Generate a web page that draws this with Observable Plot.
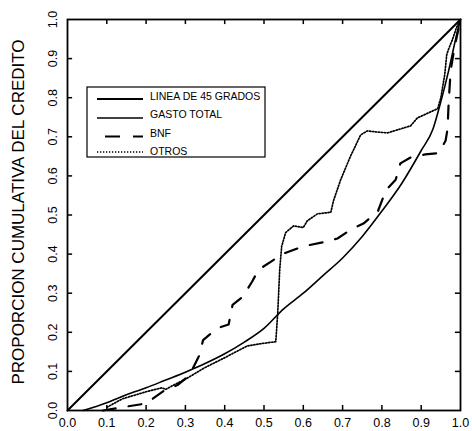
<!DOCTYPE html>
<html>
<head>
<meta charset="utf-8">
<script src="https://cdn.jsdelivr.net/npm/d3@7"></script>
<script src="https://cdn.jsdelivr.net/npm/@observablehq/plot@0.6"></script>
<style>
  html, body { margin: 0; padding: 0; background: #fff; }
  #chart svg { display: block; }
</style>
</head>
<body>
<div id="chart"></div>
<script>
// ---- data ----
const yTitle = "PROPORCION CUMULATIVA DEL CREDITO";
const xTicks = [0, 0.1, 0.2, 0.3, 0.4, 0.5, 0.6, 0.7, 0.8, 0.9, 1.0];
const xTickLabels = ["0.0","0.1","0.2","0.3","0.4","0.5","0.6","0.7","0.8","0.9","1.0"];
const yTicks = [0, 0.1, 0.2, 0.3, 0.4, 0.5, 0.6, 0.7, 0.8, 0.9, 1.0];
const yTickLabels = ["0.0","0.1","0.2","0.3","0.4","0.5","0.6","0.7","0.8","0.9","1.0"];
const innerTicks = [0.1, 0.2, 0.3, 0.4, 0.5, 0.6, 0.7, 0.8, 0.9];

const seriesNames = ["LINEA DE 45 GRADOS", "GASTO TOTAL", "BNF", "OTROS"];

const lineaX = [0, 1];
const lineaY = [0, 1];

const gastoX = [0.04, 0.1, 0.15, 0.2, 0.25, 0.3, 0.35, 0.4, 0.45, 0.5, 0.55, 0.6, 0.65, 0.7, 0.75, 0.8, 0.85, 0.9, 0.93, 0.95, 0.97, 0.99, 1.0];
const gastoY = [0, 0.02, 0.04, 0.058, 0.078, 0.098, 0.12, 0.145, 0.175, 0.21, 0.26, 0.3, 0.345, 0.39, 0.445, 0.51, 0.58, 0.665, 0.72, 0.79, 0.87, 0.96, 1.0];

const bnfX = [0.09, 0.15, 0.2, 0.245, 0.28, 0.31, 0.335, 0.345, 0.38, 0.41, 0.42, 0.445, 0.47, 0.486, 0.517, 0.547, 0.6, 0.65, 0.687, 0.725, 0.753, 0.79, 0.81, 0.835, 0.847, 0.873, 0.91, 0.944, 0.962, 0.967, 0.97, 0.975, 0.985, 1.0];
const bnfY = [0.0, 0.01, 0.018, 0.05, 0.065, 0.09, 0.14, 0.18, 0.21, 0.22, 0.27, 0.29, 0.33, 0.36, 0.38, 0.40, 0.42, 0.43, 0.44, 0.465, 0.478, 0.51, 0.563, 0.59, 0.632, 0.647, 0.655, 0.658, 0.69, 0.72, 0.79, 0.87, 0.93, 1.0];

const otrosX = [0.1, 0.14, 0.2, 0.24, 0.25, 0.27, 0.3, 0.32, 0.35, 0.4, 0.457, 0.5, 0.53, 0.535, 0.54, 0.545, 0.555, 0.575, 0.6, 0.61, 0.636, 0.67, 0.677, 0.695, 0.72, 0.746, 0.763, 0.79, 0.814, 0.847, 0.873, 0.89, 0.931, 0.942, 0.95, 0.96, 0.965, 0.97, 0.98, 0.99, 1.0];
const otrosY = [0.008, 0.03, 0.048, 0.058, 0.054, 0.065, 0.08, 0.092, 0.11, 0.135, 0.165, 0.172, 0.176, 0.25, 0.36, 0.42, 0.455, 0.472, 0.468, 0.485, 0.503, 0.507, 0.537, 0.59, 0.65, 0.705, 0.715, 0.712, 0.71, 0.72, 0.728, 0.748, 0.767, 0.772, 0.80, 0.86, 0.91, 0.925, 0.95, 0.98, 1.0];

// ---- build tables ----
const toPts = (xs, ys) => xs.map((x, i) => ({x, y: ys[i]}));
const linea = toPts(lineaX, lineaY);
const gasto = toPts(gastoX, gastoY);
const bnf = toPts(bnfX, bnfY);
const otros = toPts(otrosX, otrosY);

const FONT = "'Liberation Sans', Arial, Helvetica, sans-serif";
const tickLen = 0.013;
const DOTS = "1.3,1.7";

const chart = Plot.plot({
  width: 472,
  height: 431,
  marginLeft: 67,
  marginRight: 12,
  marginTop: 19,
  marginBottom: 21,
  style: {fontFamily: FONT, background: "#fff", color: "#000"},
  x: {domain: [0, 1], axis: null},
  y: {domain: [0, 1], axis: null},
  marks: [
    // inward ticks on all four sides
    Plot.ruleX(innerTicks, {x: d => d, y1: 0, y2: tickLen, stroke: "#000", strokeWidth: 1.5}),
    Plot.ruleX(innerTicks, {x: d => d, y1: 1, y2: 1 - tickLen, stroke: "#000", strokeWidth: 1.5}),
    Plot.ruleY(innerTicks, {y: d => d, x1: 0, x2: tickLen, stroke: "#000", strokeWidth: 1.5}),
    Plot.ruleY(innerTicks, {y: d => d, x1: 1, x2: 1 - tickLen, stroke: "#000", strokeWidth: 1.5}),
    // tick labels
    Plot.text(xTicks, {x: d => d, y: 0, text: (d, i) => xTickLabels[i], dy: 12.5, lineAnchor: "middle", textAnchor: "middle", fontSize: 12.5, fill: "#000"}),
    Plot.text(yTicks, {x: 0, y: d => d, text: (d, i) => yTickLabels[i], dx: -14.5, rotate: -90, lineAnchor: "middle", textAnchor: "middle", fontSize: 12.5, fill: "#000"}),
    // y title
    Plot.text([yTitle], {frameAnchor: "left", dx: -49, dy: -3, rotate: -90, lineAnchor: "middle", textAnchor: "middle", fontSize: 17, fill: "#000"}),
    // series
    Plot.line(linea, {x: "x", y: "y", stroke: "#000", strokeWidth: 2}),
    Plot.line(gasto, {x: "x", y: "y", stroke: "#000", strokeWidth: 1.6, curve: "monotone-x"}),
    Plot.line(bnf, {x: "x", y: "y", stroke: "#000", strokeWidth: 2.2, strokeDasharray: "13,13"}),
    Plot.line(otros, {x: "x", y: "y", stroke: "#000", strokeWidth: 1.7, strokeDasharray: DOTS}),
    Plot.frame({stroke: "#000", strokeWidth: 1.8})
  ]
});

// ---- legend (overlay inside the plot area) ----
const svg = d3.select(chart);
const lg = svg.append("g").attr("font-family", FONT).attr("font-size", 10.5).attr("text-anchor", "start");
lg.append("rect").attr("x", 87).attr("y", 87).attr("width", 178).attr("height", 70)
  .attr("fill", "#fff").attr("stroke", "#000").attr("stroke-width", 1.2);
const rows = [
  {name: seriesNames[0], ly: 99, ty: 100, x1: 97, width: 2.2, dash: null},
  {name: seriesNames[1], ly: 118, ty: 117.5, x1: 97, width: 1.6, dash: null},
  {name: seriesNames[2], ly: 136.5, ty: 137, x1: 105, width: 2.2, dash: "15,13"},
  {name: seriesNames[3], ly: 152, ty: 154.5, x1: 97, width: 1.7, dash: DOTS}
];
rows.forEach(r => {
  const l = lg.append("line").attr("x1", r.x1).attr("x2", 143).attr("y1", r.ly).attr("y2", r.ly)
    .attr("stroke", "#000").attr("stroke-width", r.width);
  if (r.dash) l.attr("stroke-dasharray", r.dash);
  lg.append("text").attr("x", 150).attr("y", r.ty).attr("text-anchor", "start").attr("fill", "#000").text(r.name);
});

document.getElementById("chart").appendChild(chart);
</script>
</body>
</html>
